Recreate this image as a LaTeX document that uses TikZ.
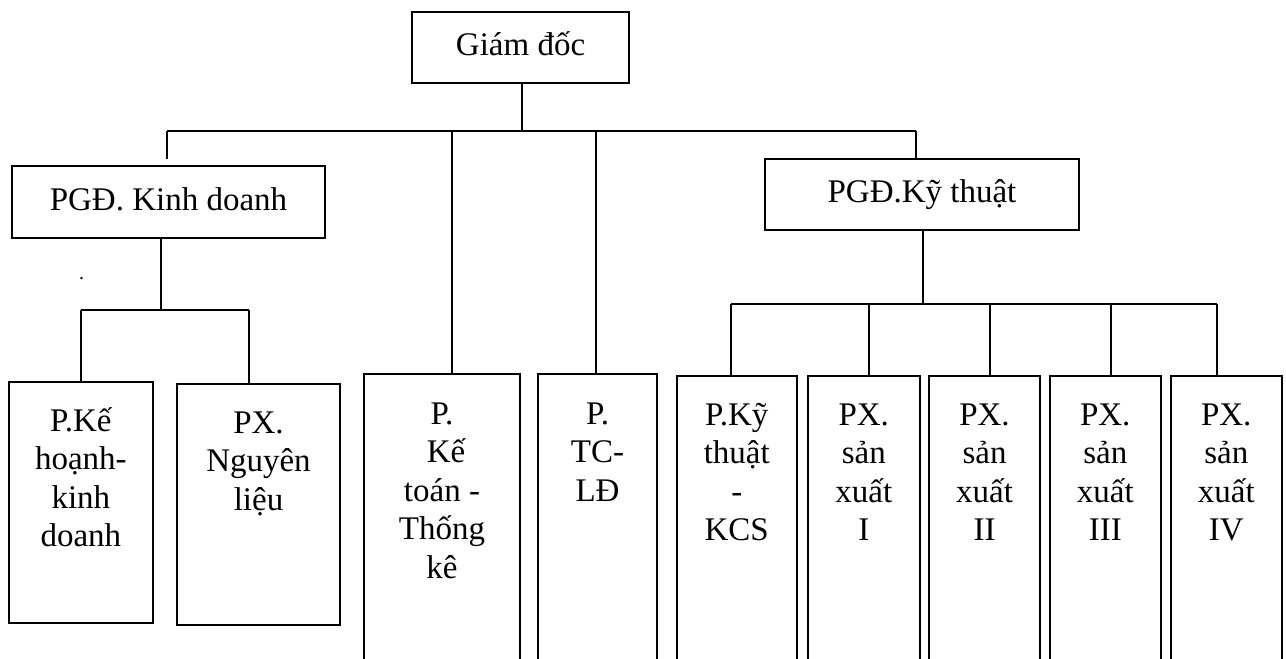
\documentclass[tikz,border=0pt]{standalone}
\usepackage{fontspec}
\setmainfont{Liberation Serif}
\newcommand\orgfont{\fontsize{33}{38}\selectfont}
\newcommand\orglblfont{\fontsize{33}{38.5}\selectfont\lineskiplimit-50pt\relax}
\begin{document}
\begin{tikzpicture}[x=1pt,y=-1pt,line width=2pt,
  box/.style={draw,rectangle,inner sep=0pt,line width=2pt},
  head/.style={box,font=\orgfont,text height=23pt,text depth=7pt},
  lbl/.style={align=center,inner sep=0pt,anchor=north,font=\orglblfont},
  wire/.style={line width=2pt}]
\useasboundingbox (0,0) rectangle (1286,659);
\clip (0,0) rectangle (1286,659);

% upper level
\node[head,minimum width=216.4pt,minimum height=71pt] (gd) at (520.6,47.5) {Giám đốc};
\node[head,minimum width=312.2pt,minimum height=72pt] (kd) at (168.5,202) {PGĐ. Kinh doanh};
\node[head,minimum width=314pt,minimum height=71pt] (kyt) at (922,194.5) {PGĐ.Kỹ thuật};

% departments (boxes run on below the page edge)
\node[box,minimum width=144.3pt,minimum height=241pt] (kh) at (80.85,502.5) {};
\node[box,minimum width=163pt,minimum height=241pt] (nl) at (258.5,504.5) {};
\node[box,minimum width=156pt,minimum height=326pt] (kt) at (442,537) {};
\node[box,minimum width=119.8pt,minimum height=326pt] (tc) at (597.5,537) {};
\node[box,minimum width=120.5pt,minimum height=324pt] (kcs) at (736.75,538) {};
\node[box,minimum width=111.5pt,minimum height=324pt] (px1) at (863.75,538) {};
\node[box,minimum width=111pt,minimum height=324pt] (px2) at (984.5,538) {};
\node[box,minimum width=110.5pt,minimum height=324pt] (px3) at (1105.25,538) {};
\node[box,minimum width=110.5pt,minimum height=324pt] (px4) at (1226.25,538) {};

% labels
\node[lbl] (kh-t) at ([yshift=-17pt]kh.north) {\rule{0pt}{32pt}P.Kế\\hoạnh-\\kinh\\doanh};
\node[lbl] (nl-t) at ([yshift=-17pt]nl.north) {\rule{0pt}{32pt}PX.\\Nguyên\\liệu};
\node[lbl] (kt-t) at ([yshift=-18pt]kt.north) {\rule{0pt}{32pt}P.\\\hspace*{0.25em}Kế\\toán -\\Thống\\kê};
\node[lbl] (tc-t) at ([yshift=-18pt]tc.north) {\rule{0pt}{32pt}P.\\TC-\\LĐ};
\node[lbl] (kcs-t) at ([yshift=-17pt]kcs.north) {\rule{0pt}{32pt}P.Kỹ\\thuật\\-\\KCS};
\node[lbl] (px1-t) at ([yshift=-17pt]px1.north) {\rule{0pt}{32pt}PX.\\sản\\xuất\\I};
\node[lbl] (px2-t) at ([yshift=-17pt]px2.north) {\rule{0pt}{32pt}PX.\\sản\\xuất\\II};
\node[lbl] (px3-t) at ([yshift=-17pt]px3.north) {\rule{0pt}{32pt}PX.\\sản\\xuất\\III};
\node[lbl] (px4-t) at ([yshift=-17pt]px4.north) {\rule{0pt}{32pt}PX.\\sản\\xuất\\IV};
\node[inner sep=0pt,anchor=base,font=\fontsize{20}{22}\selectfont] (dot) at (81.7,279) {.};

% main bus under the director
\coordinate (busL) at (167,131);
\coordinate (busR) at (916,131);
\coordinate (gdout) at (521.5,131);
\coordinate (kdin) at (167,159);
\coordinate (ktin) at (452,131);
\coordinate (tcin) at (595.6,131);
\draw[wire] (gd.south -| gdout) -- (gdout);
\draw[wire] (busL) -- (busR);
\draw[wire] (busL) -- (kdin);
\draw[wire] (busR) -- (busR |- kyt.north);
\draw[wire] (ktin) -- (ktin |- kt.north);
\draw[wire] (tcin) -- (tcin |- tc.north);

% business branch
\coordinate (b2) at (161,310);
\coordinate (b2L) at (81,310);
\coordinate (b2R) at (249,310);
\draw[wire] (kd.south -| b2) -- (b2);
\draw[wire] (b2L) -- (b2R);
\draw[wire] (b2L) -- (b2L |- kh.north);
\draw[wire] (b2R) -- (b2R |- nl.north);

% technical branch
\coordinate (b3) at (923,304);
\coordinate (b3a) at (731,304);
\coordinate (b3b) at (869,304);
\coordinate (b3c) at (990,304);
\coordinate (b3d) at (1111,304);
\coordinate (b3e) at (1217,304);
\draw[wire] (kyt.south -| b3) -- (b3);
\draw[wire] (b3a) -- (b3e);
\draw[wire] (b3a) -- (b3a |- kcs.north);
\draw[wire] (b3b) -- (b3b |- px1.north);
\draw[wire] (b3c) -- (b3c |- px2.north);
\draw[wire] (b3d) -- (b3d |- px3.north);
\draw[wire] (b3e) -- (b3e |- px4.north);
\end{tikzpicture}
\end{document}
